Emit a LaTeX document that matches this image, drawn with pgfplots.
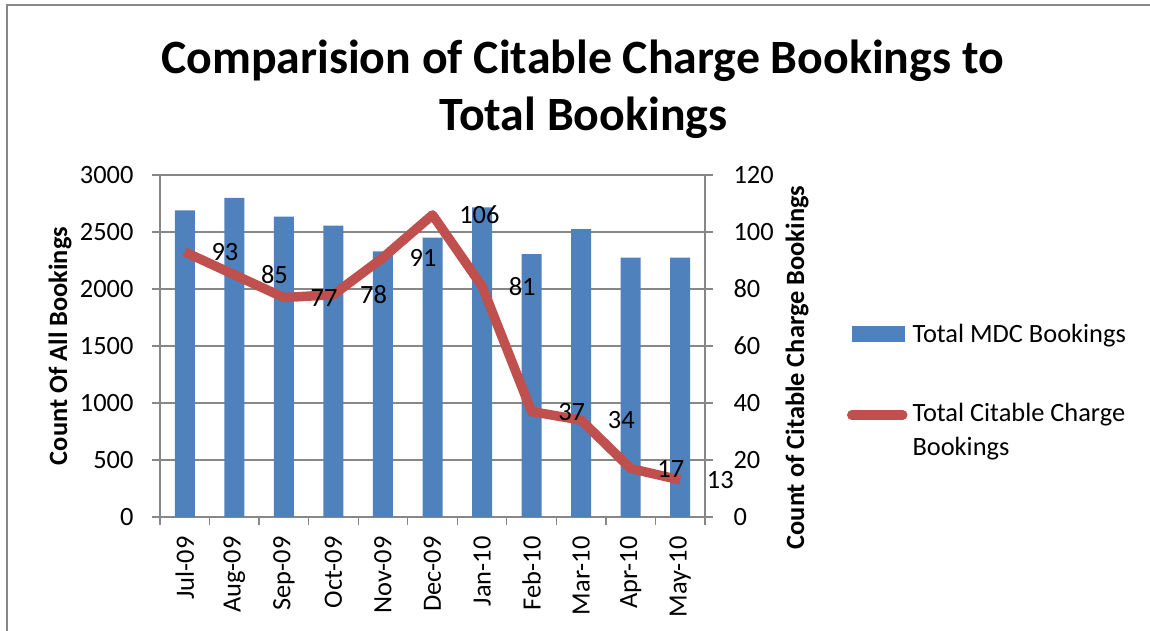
\documentclass[border=0pt]{standalone}
\usepackage{fontspec}
\setmainfont{Carlito}
\usepackage{pgfplots}
\pgfplotsset{compat=1.18}
\definecolor{barblue}{HTML}{4F81BD}
\definecolor{linered}{HTML}{C0504D}
\definecolor{gridgray}{HTML}{878787}
\newcommand{\ff}{\fontsize{26.5}{33.5}\selectfont}

\begin{document}
\begin{tikzpicture}
\path[use as bounding box] (0,0) rectangle (1150bp,-631bp);
\draw[gridgray, line width=1.5bp] (7bp,-700bp) -- (7bp,-5bp) -- (1200bp,-5bp);
\node[font=\fontsize{48}{57}\selectfont\bfseries, anchor=base, inner sep=0pt] at (582.5bp,-73bp) {Comparision of Citable Charge Bookings to};
\node[font=\fontsize{48}{57}\selectfont\bfseries, anchor=base, inner sep=0pt] at (583.5bp,-130bp) {Total Bookings};

\pgfplotsset{common/.style={
  at={(160bp,-517bp)}, anchor=south west,
  scale only axis, width=545bp, height=342bp,
  xmin=-0.5, xmax=10.5,
  tick label style={font=\ff},
  /pgf/number format/assume math mode=true,
  /pgf/number format/1000 sep={},
  scaled y ticks=false,
  tick align=outside,
  major tick length=8bp, minor tick length=8bp,
  tick style={gridgray, line width=1.3bp},
  axis line style={gridgray, line width=1.3bp},
}}

\begin{axis}[common,
  axis x line*=bottom, axis y line*=left,
  ymin=0, ymax=3000, ytick={0,500,...,3000},
  y tick label style={xshift=-15bp},
  xtick={0,...,10},
  xticklabels={Jul-09,Aug-09,Sep-09,Oct-09,Nov-09,Dec-09,Jan-10,Feb-10,Mar-10,Apr-10,May-10},
  x tick label style={rotate=90, anchor=east, xshift=-8bp},
  major x tick style={draw=none},
  minor xtick={-0.5,0.5,...,10.5},
  ymajorgrids, grid style={gridgray, line width=1.3bp},
  ylabel={Count Of All Bookings},
  ylabel style={font=\ff\bfseries, at={(axis description cs:-0.1835,0.5)}, anchor=center},
]
\addplot[ybar, bar width=20bp, fill=barblue, draw=none, bar shift=0pt] coordinates {
(0,2690) (1,2800) (2,2635) (3,2555) (4,2330) (5,2450) (6,2715) (7,2305) (8,2525) (9,2275) (10,2275)
};
\end{axis}

\begin{axis}[common,
  axis x line=none, axis y line*=right,
  ymin=0, ymax=120, ytick={0,20,...,120},
  y tick label style={xshift=17bp},
  clip=false,
  ylabel={Count of Citable Charge Bookings},
  ylabel style={font=\ff\bfseries, at={(axis description cs:1.1688,0.437)}, anchor=center},
  legend style={at={(axis description cs:1.2514,0.565)}, anchor=north west,
    draw=none, fill=none, inner sep=0pt, outer sep=0pt,
    row sep=55bp, column sep=5bp,
    nodes={inner sep=0pt, anchor=base west, font=\ff}},
]
\addlegendimage{legend image code/.code={\path (0,0); \fill[barblue] (5bp,1bp) rectangle (57bp,16bp);}}
\addlegendentry{Total MDC Bookings}
\addplot[linered, line width=9.5bp, line join=round,
  legend image code/.code={\path (0,0); \draw[linered, line width=9.5bp, line cap=round] (5bp,7bp) -- (56bp,7bp);},
  nodes near coords, nodes near coords align=horizontal,
  nodes near coords style={anchor=west, xshift=22bp, inner sep=0pt, font=\ff, text=black},
  point meta=y] coordinates {
(0,93) (1,85) (2,77) (3,78) (4,91) (5,106) (6,81) (7,37) (8,34) (9,17) (10,13)
};
\addlegendentry{\begin{tabular}[t]{@{}l@{}}Total Citable Charge\\Bookings\end{tabular}}
\end{axis}
\end{tikzpicture}
\end{document}
